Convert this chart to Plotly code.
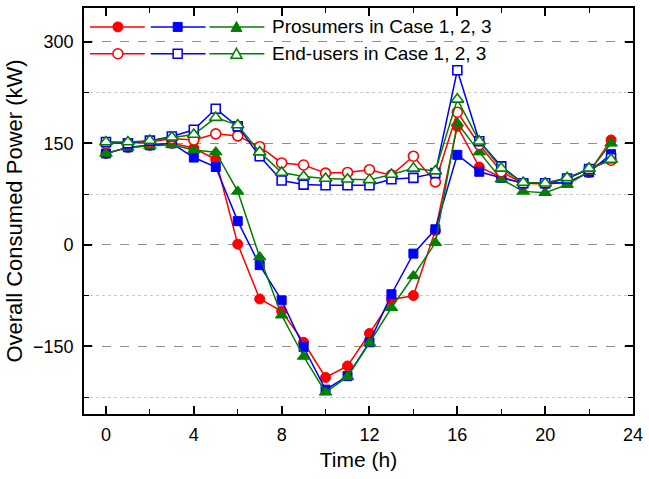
import plotly.graph_objects as go

hours = list(range(24))

pro_case1 = [135, 144, 147, 150, 143, 126, 1, -80, -98, -144, -196, -179, -131, -81, -75, 21, 175, 115, 100, 91, 90, 92, 107, 155]
pro_case2 = [135, 144, 147, 150, 129, 115, 35, -30, -82, -151, -214, -194, -144, -73, -13, 23, 133, 108, 99, 91, 91, 92, 107, 134]
pro_case3 = [135, 144, 146, 148, 140, 137, 79, -18, -104, -165, -218, -195, -145, -93, -46, 3, 180, 137, 97, 79, 77, 89, 108, 150]

end_case1 = [150, 150, 152, 157, 155, 164, 161, 145, 121, 118, 106, 107, 111, 103, 131, 93, 196, 148, 108, 91, 91, 98, 112, 125]
end_case2 = [152, 150, 154, 160, 170, 201, 175, 131, 95, 89, 88, 88, 88, 97, 99, 106, 258, 153, 116, 91, 91, 98, 112, 128]
end_case3 = [152, 152, 154, 159, 163, 188, 177, 137, 107, 101, 98, 97, 96, 104, 113, 109, 215, 153, 113, 92, 91, 99, 113, 126]

legend_labels = ["Prosumers in Case 1, 2, 3", "End-users in Case 1, 2, 3"]

RED, BLUE, GREEN = "#FF0000", "#0000FF", "#008000"
colors = [RED, BLUE, GREEN]
symbols = ["circle", "square", "triangle-up"]
sizes = [10, 9, 11]

fig = go.Figure()

for vals, c, s, sz in zip([pro_case1, pro_case2, pro_case3], colors, symbols, sizes):
    fig.add_trace(go.Scatter(x=hours, y=vals, mode="lines+markers",
                             line=dict(color=c, width=1.5),
                             marker=dict(symbol=s, size=sz, color=c, line=dict(color=c, width=1)),
                             showlegend=False))
for vals, c, s, sz in zip([end_case1, end_case2, end_case3], colors, symbols, sizes):
    fig.add_trace(go.Scatter(x=hours, y=vals, mode="lines+markers",
                             line=dict(color=c, width=1.5),
                             marker=dict(symbol=s, size=sz, color="white", line=dict(color=c, width=1.6)),
                             showlegend=False))

# ---- hand-drawn legend (decoration in paper coordinates) ----
L, R, T, B = 84, 635, 6, 414
W, H = R - L, B - T
def px(x):
    return (x - L) / W
def py(y):
    return (B - y) / H

shapes = []
annotations = []
rows = [25, 52]
segs = [(90, 145, 118), (151, 206, 178), (210, 265, 237)]
for ri, (ry, label) in enumerate(zip(rows, legend_labels)):
    filled = ri == 0
    for (x0, x1, xm), c, s in zip(segs, colors, symbols):
        shapes.append(dict(type="line", xref="paper", yref="paper",
                           x0=px(x0), x1=px(x1), y0=py(ry), y1=py(ry),
                           line=dict(color=c, width=1.5)))
        fill = c if filled else "white"
        common = dict(xref="paper", yref="paper", xsizemode="pixel", ysizemode="pixel",
                      xanchor=px(xm), yanchor=py(ry), fillcolor=fill,
                      line=dict(color=c, width=1.5 if not filled else 1))
        if s == "circle":
            shapes.append(dict(type="circle", x0=-5, x1=5, y0=-5, y1=5, **common))
        elif s == "square":
            shapes.append(dict(type="rect", x0=-4.5, x1=4.5, y0=-4.5, y1=4.5, **common))
        else:
            shapes.append(dict(type="path", path="M -5.5,-4.5 L 5.5,-4.5 L 0,5.5 Z", **common))
    annotations.append(dict(xref="paper", yref="paper", x=px(271), y=py(ry),
                            xanchor="left", yanchor="middle", showarrow=False,
                            text=label, font=dict(size=19, color="black",
                                                  family="Liberation Sans, Arial, sans-serif")))

font = dict(family="Liberation Sans, Arial, sans-serif", color="black")

fig.update_layout(
    width=649, height=479,
    margin=dict(l=L, r=649 - R, t=T, b=479 - B),
    paper_bgcolor="white", plot_bgcolor="white",
    font=font,
    shapes=shapes, annotations=annotations,
    xaxis=dict(range=[-1, 24], tickmode="linear", tick0=0, dtick=4,
               ticks="inside", ticklen=8, tickwidth=1.5, tickcolor="black",
               minor=dict(dtick=2, tick0=0, ticks="inside", ticklen=5, tickcolor="black", tickwidth=1.2),
               showline=True, linecolor="black", linewidth=1.8, mirror="ticks",
               showgrid=False, zeroline=False,
               tickfont=dict(size=18), ticklabelstandoff=3,
               title=dict(text="Time (h)", font=dict(size=21), standoff=9)),
    yaxis=dict(range=[-250, 350], tickmode="linear", tick0=0, dtick=150,
               ticks="inside", ticklen=8, tickwidth=1.5, tickcolor="black",
               minor=dict(dtick=75, tick0=0, ticks="inside", ticklen=5, tickcolor="black", tickwidth=1.2,
                          showgrid=True, gridcolor="#C8C8C8", griddash="dot", gridwidth=1),
               showline=True, linecolor="black", linewidth=1.8, mirror="ticks",
               showgrid=True, gridcolor="#909090", griddash="dash", gridwidth=1,
               zeroline=False,
               tickfont=dict(size=18), ticklabelstandoff=5,
               title=dict(text="Overall Consumed Power (kW)", font=dict(size=22), standoff=4)),
)

fig.write_html("out.html")
